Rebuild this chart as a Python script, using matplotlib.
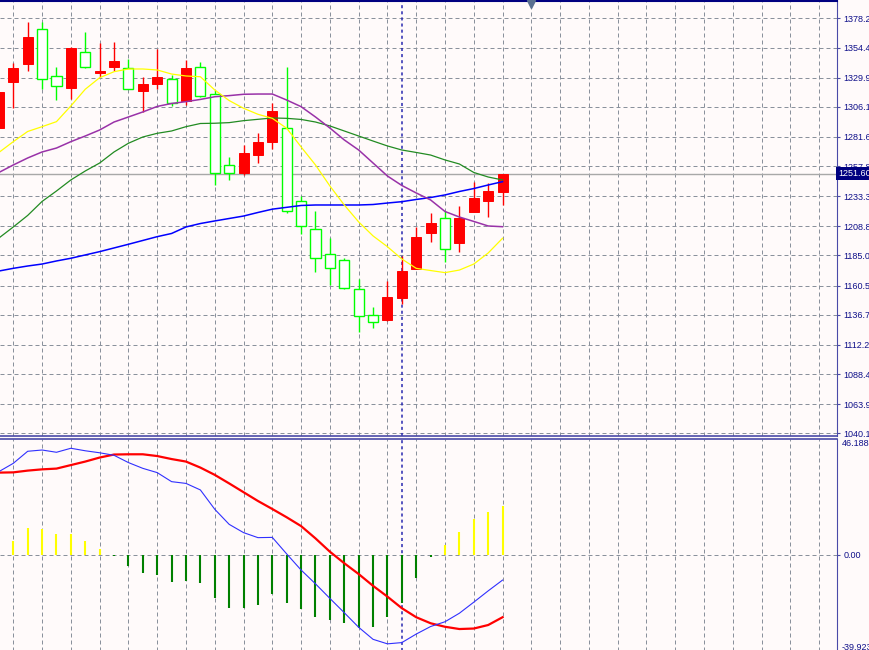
import numpy as np
import matplotlib.pyplot as plt
from matplotlib.patches import Rectangle

# bar index (bar -1 is cut at the left edge)
bars = list(range(-1, 35))

opens = [1289.1, 1326.6, 1340.7, 1369.2, 1331.2, 1321.7, 1350.5, 1333.9, 1338.8, 1338.0,
         1319.2, 1324.4, 1328.5, 1311.1, 1338.8, 1316.3, 1258.7, 1251.9, 1266.6, 1277.7,
         1288.6, 1229.4, 1206.6, 1185.9, 1181.3, 1157.4, 1136.5, 1132.4, 1150.1, 1173.7,
         1203.0, 1215.3, 1194.9, 1220.2, 1229.6, 1236.4]
highs = [1322.0, 1341.5, 1375.4, 1375.4, 1338.8, 1354.8, 1367.3, 1357.8, 1358.6, 1345.0,
         1330.6, 1352.9, 1332.0, 1344.2, 1342.4, 1319.8, 1265.4, 1275.0, 1284.5, 1309.0,
         1338.8, 1233.4, 1221.2, 1199.0, 1182.7, 1165.6, 1143.3, 1164.2, 1184.6, 1208.0,
         1219.8, 1221.2, 1225.3, 1245.1, 1243.8, 1251.6]
lows = [1285.0, 1304.9, 1335.5, 1320.4, 1311.6, 1312.2, 1337.5, 1330.1, 1335.3, 1320.4,
        1302.1, 1320.4, 1306.8, 1307.6, 1313.8, 1242.4, 1246.5, 1250.5, 1260.6, 1271.7,
        1219.3, 1202.5, 1171.3, 1160.9, 1157.4, 1122.9, 1125.7, 1131.8, 1145.4, 1173.7,
        1196.2, 1180.0, 1188.1, 1220.2, 1216.6, 1226.1]
closes = [1318.4, 1337.9, 1363.2, 1329.0, 1323.0, 1354.3, 1338.3, 1335.3, 1343.4, 1320.8,
          1324.4, 1330.6, 1309.0, 1337.5, 1314.9, 1252.4, 1252.4, 1268.2, 1277.2, 1302.7,
          1221.2, 1209.2, 1183.2, 1174.5, 1158.2, 1135.7, 1131.0, 1151.1, 1172.6, 1199.8,
          1211.2, 1190.5, 1215.3, 1232.1, 1237.5, 1251.6]

ma_yellow = [1268.9, 1277.7, 1286.0, 1289.9, 1294.0, 1306.8, 1320.4, 1329.8, 1334.7, 1336.9,
             1336.9, 1336.1, 1332.8, 1331.2, 1330.6, 1319.8, 1311.2, 1304.9, 1300.0, 1296.7,
             1288.6, 1273.4, 1258.7, 1241.6, 1226.1, 1212.3, 1200.9, 1192.1, 1182.1, 1174.5,
             1172.7, 1171.0, 1173.1, 1178.0, 1187.0, 1199.0]
ma_purple = [1252.6, 1258.7, 1264.4, 1269.3, 1272.5, 1277.7, 1282.3, 1287.2, 1293.7, 1297.8,
             1301.9, 1306.4, 1308.8, 1310.3, 1312.1, 1314.3, 1315.2, 1316.3, 1316.5, 1316.5,
             1311.6, 1306.2, 1297.8, 1288.8, 1279.1, 1270.9, 1260.3, 1249.7, 1242.0, 1235.9,
             1230.2, 1220.8, 1216.3, 1212.7, 1209.0, 1208.4]
ma_green = [1199.2, 1208.2, 1217.6, 1229.0, 1237.5, 1246.5, 1253.8, 1260.3, 1269.3, 1276.4,
            1281.5, 1284.5, 1286.4, 1289.9, 1292.5, 1292.7, 1293.2, 1294.8, 1295.9, 1297.0,
            1296.7, 1295.8, 1293.7, 1290.5, 1286.4, 1282.3, 1278.2, 1274.2, 1270.9, 1268.9,
            1266.8, 1262.8, 1259.5, 1252.6, 1248.9, 1246.5]
ma_blue = [1172.3, 1174.5, 1176.4, 1178.0, 1180.5, 1182.7, 1185.4, 1188.1, 1191.1, 1194.1,
           1197.2, 1200.3, 1202.9, 1208.2, 1211.0, 1213.1, 1215.1, 1217.1, 1220.0, 1222.7,
           1224.2, 1225.7, 1226.1, 1226.1, 1226.1, 1226.1, 1226.5, 1227.7, 1228.8, 1230.6,
           1232.2, 1234.3, 1237.1, 1239.5, 1242.4, 1245.1]

macd_main = [33.2, 36.5, 41.3, 41.8, 40.9, 42.5, 41.5, 40.7, 39.7, 36.8,
             34.5, 32.8, 29.2, 28.5, 25.9, 18.2, 12.2, 8.9, 6.9, 7.0,
             0.4, -6.0, -11.5, -17.3, -23.0, -28.8, -33.6, -35.4, -34.9, -31.5,
             -28.5, -26.6, -23.2, -18.8, -14.3, -10.0]
macd_signal = [32.8, 32.9, 33.6, 34.1, 34.4, 35.8, 37.2, 38.8, 40.0, 40.1,
               40.1, 39.4, 38.2, 37.2, 34.8, 31.9, 28.5, 25.0, 21.5, 18.3,
               15.0, 11.5, 6.6, 1.3, -3.3, -7.6, -12.3, -16.6, -21.2, -24.8,
               -27.2, -28.6, -29.5, -29.3, -27.9, -24.8]
macd_hist = [3.0, 5.58, 10.63, 10.24, 8.36, 8.36, 5.58, 2.39, -0.3, -4.38,
             -7.29, -7.96, -10.87, -10.24, -11.27, -17.24, -20.99, -21.23, -19.91, -15.53,
             -19.24, -21.62, -24.57, -25.89, -26.96, -28.95, -28.55, -24.81, -19.0, -9.04,
             -0.68, 3.98, 9.28, 14.22, 17.12, 19.51]

price_ticks = [1378.20, 1354.40, 1329.90, 1306.10, 1281.60, 1257.80, 1233.30, 1208.80,
               1185.00, 1160.50, 1136.70, 1112.20, 1088.40, 1063.90, 1040.10]
last_price = 1251.60
separator_bar = 27
shift_bar = 36

BG = "#fffafa"
GRID = "#8a919c"
AXIS = "#4a4aa8"
LABEL = "#10108a"
plt.rcParams['font.family'] = ['Liberation Sans', 'DejaVu Sans']

W, H = 870, 650
fig = plt.figure(figsize=(W / 100, H / 100), dpi=100)
fig.patch.set_facecolor(BG)

ax1 = fig.add_axes([0, (H - 436) / H, 837 / W, 435 / H])
ax2 = fig.add_axes([0, (H - 655.2) / H, 837 / W, 216.2 / H])

for ax in (ax1, ax2):
    ax.set_facecolor(BG)
    ax.set_xlim(-0.924, 57.24)
    ax.set_xticks(np.arange(0, 58, 2))
    ax.tick_params(axis="x", length=0, labelbottom=False)
    ax.yaxis.tick_right()
    ax.tick_params(axis="y", direction="out", length=2.5, width=0.8, color=AXIS,
                   labelcolor=LABEL, labelsize=6.5, pad=2)
    ax.grid(True, color=GRID, lw=0.72, linestyle=(0, (4, 3)))
    ax.set_axisbelow(True)
    ax.spines["left"].set_visible(False)
    ax.spines["right"].set_color(AXIS)
    ax.axvline(separator_bar, color="#2828b0", lw=1.1, ls=(0, (2, 2)), zorder=1)

# price panel
ax1.set_ylim(1037.9, 1392.29)
ax1.set_yticks(price_ticks)
ax1.set_yticklabels([f"{v:.2f}" for v in price_ticks])
ax1.spines["top"].set_color("#000080")
ax1.spines["top"].set_linewidth(1.5)
ax1.spines["bottom"].set_color(AXIS)
ax1.spines["bottom"].set_linewidth(1.2)

ax1.axhline(last_price, color="#a8a8a8", lw=1.0, zorder=2)

w = 0.7
for i, o, h, l, c in zip(bars, opens, highs, lows, closes):
    if c > o:
        ax1.vlines(i, l, h, color="#ff0000", lw=1.0, zorder=3)
        ax1.add_patch(Rectangle((i - w / 2, o), w, c - o, fc="#ff0000", ec="#ff0000",
                                lw=0.7, zorder=4))
    else:
        ax1.vlines(i, l, h, color="#00ff00", lw=1.0, zorder=3)
        ax1.add_patch(Rectangle((i - w / 2, c), w, o - c, fc="#ffffff", ec="#00ff00",
                                lw=1.0, zorder=4))

ax1.plot(bars, ma_blue, color="#0000ff", lw=1.1, zorder=5)
ax1.plot(bars, ma_green, color="#228b22", lw=0.9, zorder=5)
ax1.plot(bars, ma_purple, color="#9932a8", lw=1.1, zorder=5)
ax1.plot(bars, ma_yellow, color="#ffff00", lw=0.9, zorder=5)

ax1.plot([shift_bar], [1390.0], marker="v", ms=6, color="#5a7090", clip_on=False, zorder=6)

ax1.text(1.0015, last_price, f"{last_price:.2f}", transform=ax1.get_yaxis_transform(),
         color="white", fontsize=6.5, va="center", ha="left", zorder=10, clip_on=False,
         bbox=dict(boxstyle="square,pad=0.2", fc="#000080", ec="none"))

# MACD panel
ax2.set_ylim(-39.923, 46.188)
ax2.set_yticks([0])
ax2.set_yticklabels(["0.00"])
ax2.spines["bottom"].set_visible(False)
ax2.spines["top"].set_color(AXIS)
ax2.spines["top"].set_linewidth(1.2)

hist_colors = ["#ffff00" if v > 0 else "#008000" for v in macd_hist]
ax2.vlines(bars, 0, macd_hist, colors=hist_colors, lw=1.5, zorder=3)
ax2.plot(bars, macd_signal, color="#ff0000", lw=1.6, zorder=4)
ax2.plot(bars, macd_main, color="#3030ff", lw=0.8, zorder=5)

ax2.text(1.006, 46.188, "46.188", transform=ax2.get_yaxis_transform(), color=LABEL,
         fontsize=6.5, va="top", ha="left", clip_on=False)
ax2.text(1.006, -37.0, "-39.923", transform=ax2.get_yaxis_transform(), color=LABEL,
         fontsize=6.5, va="center", ha="left", clip_on=False)

fig.savefig("out.png", dpi=100, facecolor=BG)
